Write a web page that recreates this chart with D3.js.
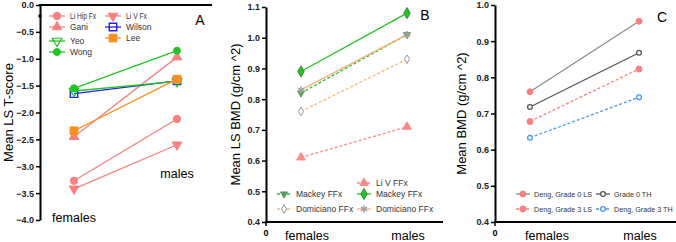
<!DOCTYPE html>
<html>
<head>
<meta charset="utf-8">
<script src="https://cdn.jsdelivr.net/npm/d3@7"></script>
<style>
  body { margin: 0; background: #fff; }
  svg { font-family: 'Liberation Sans', Arial, sans-serif; display: block; }
</style>
</head>
<body>
<div id="chart"></div>
<script>
const groups = ['females', 'males'];

// Panel A: mean LS T-score
const seriesA = ['Li Hip Fx', 'Li V Fx', 'Gani', 'Wilson', 'Yeo', 'Lee', 'Wong'];
const valuesA = [
  [-3.27, -2.12],
  [-3.42, -2.60],
  [-2.45, -0.97],
  [-1.65, -1.41],
  [-1.60, -1.42],
  [-2.34, -1.38],
  [-1.55, -0.85]
];
const ticksA = [0, -0.5, -1, -1.5, -2, -2.5, -3, -3.5, -4];

// Panel B: mean LS BMD
const seriesB = ['Li V FFx', 'Mackey FFx', 'Mackey FFx', 'Domiciano FFx', 'Domiciano FFx'];
const valuesB = [
  [0.61, 0.71],
  [0.82, 1.01],
  [0.89, 1.08],
  [0.76, 0.93],
  [0.83, 1.01]
];
const ticksB = [0.4, 0.5, 0.6, 0.7, 0.8, 0.9, 1.0, 1.1];

// Panel C: mean BMD
const seriesC = ['Deng, Grade 0 LS', 'Grade 0 TH', 'Deng, Grade 3 LS', 'Deng, Grade 3 TH'];
const valuesC = [
  [0.76, 0.955],
  [0.718, 0.868],
  [0.678, 0.823],
  [0.633, 0.745]
];
const ticksC = [0.4, 0.5, 0.6, 0.7, 0.8, 0.9, 1.0];

const pink = '#f98080', green = '#22c322', blue = '#2424e6', orange = '#f7901e';

const svg = d3.select('#chart').append('svg')
  .attr('width', 676).attr('height', 242);

function sym(type, size, rotate, fill, stroke, sw) {
  return { type, size, rotate: rotate || 0, fill, stroke, sw: sw || 1 };
}

const panels = [
  {
    letter: 'A', letterX: 200, letterY: 25,
    yLabel: 'Mean LS T-score', yLabelX: 8,
    axisX: 40, xEnd: 212, xAxisTop: true,
    xRange: [74, 177], yDomain: [-4, 0], yRange: [220, 5], ticks: ticksA,
    names: seriesA, values: valuesA,
    groupLabels: [{ x: 74, y: 222 }, { x: 177, y: 178 }],
    styles: [
      { color: pink, dash: null, m: sym(d3.symbolCircle, 42, 0, pink, pink) },
      { color: pink, dash: null, m: sym(d3.symbolTriangle, 40, 180, pink, pink) },
      { color: pink, dash: null, m: sym(d3.symbolTriangle, 40, 0, pink, pink) },
      { color: blue, dash: null, m: sym(d3.symbolSquare, 55, 0, 'none', blue, 1.4) },
      { color: green, dash: null, m: sym(d3.symbolTriangle, 40, 180, 'none', green, 1.2) },
      { color: orange, dash: null, m: sym(d3.symbolSquare, 60, 0, orange, orange) },
      { color: green, dash: null, m: sym(d3.symbolCircle, 38, 0, green, green) }
    ],
    legend: [
      { i: 0, x: 57, y: 16, w: 26 }, { i: 2, x: 57, y: 27 }, { i: 4, x: 57, y: 41 }, { i: 6, x: 57, y: 52 },
      { i: 1, x: 113, y: 16, w: 21 }, { i: 3, x: 113, y: 27 }, { i: 5, x: 113, y: 38 }
    ],
    legendFont: 8.5, legendGap: 13, legendHalf: 8
  },
  {
    letter: 'B', letterX: 425, letterY: 20,
    yLabel: 'Mean LS BMD (g/cm ^2)', yLabelX: 235,
    axisX: 266, xEnd: 443,
    xRange: [301, 407], yDomain: [0.4, 1.1], yRange: [222, 7], ticks: ticksB,
    names: seriesB, values: valuesB,
    groupLabels: [{ x: 307, y: 240 }, { x: 408, y: 240 }],
    styles: [
      { color: '#fb8a8a', dash: '3,2', m: sym(d3.symbolTriangle, 32, 0, '#fb8a8a', '#fb8a8a') },
      { color: green, dash: '3,2', m: sym(d3.symbolTriangle, 22, 180, '#5aa05a', '#5aa05a') },
      { color: green, dash: null, m: sym(d3.symbolDiamond, 36, 0, green, '#3a8a3a') },
      { color: '#fbb678', dash: '3,2', m: sym(d3.symbolDiamond, 22, 0, '#fff', '#999') },
      { color: '#f6b07a', dash: null, m: sym(d3.symbolAsterisk, 36, 0, 'none', '#a0a0a0', 1.5) }
    ],
    legend: [
      { i: 1, x: 284, y: 194 }, { i: 3, x: 284, y: 209 },
      { i: 0, x: 364, y: 183 }, { i: 2, x: 364, y: 194 }, { i: 4, x: 364, y: 209 }
    ],
    legendFont: 8.5, legendGap: 12, legendHalf: 7
  },
  {
    letter: 'C', letterX: 662, letterY: 22,
    yLabel: 'Mean BMD (g/cm ^2)', yLabelX: 461,
    axisX: 495, xEnd: 676,
    xRange: [530, 639], yDomain: [0.4, 1.0], yRange: [222, 5], ticks: ticksC,
    names: seriesC, values: valuesC,
    groupLabels: [{ x: 547, y: 240 }, { x: 640, y: 240 }],
    styles: [
      { color: '#8c8c8c', dash: null, m: sym(d3.symbolCircle, 28, 0, pink, pink) },
      { color: '#555', dash: null, m: sym(d3.symbolCircle, 18, 0, '#fff', '#555', 1.3) },
      { color: pink, dash: '3,2', m: sym(d3.symbolCircle, 28, 0, pink, pink) },
      { color: '#4a9af5', dash: '3,2', m: sym(d3.symbolCircle, 18, 0, '#fff', '#4a9af5', 1.3) }
    ],
    legend: [
      { i: 0, x: 523, y: 194 }, { i: 2, x: 523, y: 209 },
      { i: 1, x: 603, y: 194 }, { i: 3, x: 603, y: 209 }
    ],
    legendFont: 7.2, legendGap: 11, legendHalf: 7
  }
];

function drawMarker(g, st, x, y) {
  const m = st.m;
  g.append('path')
    .attr('d', d3.symbol().type(m.type).size(m.size)())
    .attr('transform', `translate(${x},${y}) rotate(${m.rotate})`)
    .attr('fill', m.fill)
    .attr('stroke', m.stroke)
    .attr('stroke-width', m.sw);
}

panels.forEach(p => {
  const g = svg.append('g');
  const x = d3.scaleLinear().domain([0, 1]).range(p.xRange);
  const y = d3.scaleLinear().domain(p.yDomain).range(p.yRange);

  // Y axis
  g.append('g')
    .attr('transform', `translate(${p.axisX},0)`)
    .call(d3.axisLeft(y).tickValues(p.ticks).tickFormat(d3.format('.1f')).tickSize(4).tickSizeOuter(0))
    .call(a => a.select('.domain').attr('stroke', '#000').attr('stroke-width', 2))
    .call(a => a.selectAll('.tick line').attr('stroke', '#000').attr('stroke-width', 1.5))
    .call(a => a.selectAll('text').attr('fill', '#222').style('font-size', '9px').style('font-weight', 'bold').attr('x', -6));

  // X axis line (top for A, bottom for B/C)
  const xAxisY = p.xAxisTop ? y(p.yDomain[1]) : y(p.yDomain[0]);
  g.append('line')
    .attr('x1', p.axisX - 1).attr('x2', p.xEnd)
    .attr('y1', xAxisY).attr('y2', xAxisY)
    .attr('stroke', '#000').attr('stroke-width', 2);
  if (!p.xAxisTop) {
    g.append('line')
      .attr('x1', p.axisX).attr('x2', p.axisX)
      .attr('y1', xAxisY).attr('y2', xAxisY + 4)
      .attr('stroke', '#000').attr('stroke-width', 1.5);
    g.append('text')
      .attr('x', p.axisX).attr('y', 236)
      .attr('text-anchor', 'middle')
      .style('font-size', '9px').style('font-weight', 'bold')
      .text('0');
  } else {
    g.append('circle').attr('cx', p.axisX).attr('cy', 16).attr('r', 1.8).attr('fill', '#000');
  }

  // Y label
  g.append('text')
    .attr('transform', `translate(${p.yLabelX},${(p.yRange[0] + p.yRange[1]) / 2}) rotate(-90)`)
    .attr('text-anchor', 'middle')
    .attr('dy', '0.35em')
    .style('font-size', '13px')
    .text(p.yLabel);

  // Panel letter
  g.append('text')
    .attr('x', p.letterX).attr('y', p.letterY)
    .attr('text-anchor', 'middle')
    .style('font-size', '14px')
    .text(p.letter);

  // Group labels
  p.groupLabels.forEach((gl, i) => {
    g.append('text')
      .attr('x', gl.x).attr('y', gl.y)
      .attr('text-anchor', 'middle')
      .style('font-size', '12.5px')
      .text(groups[i]);
  });

  // Lines and markers
  const line = d3.line().x((d, i) => x(i)).y(d => y(d));
  p.values.forEach((vals, si) => {
    const st = p.styles[si];
    g.append('path')
      .attr('d', line(vals))
      .attr('fill', 'none')
      .attr('stroke', st.color)
      .attr('stroke-width', 1.3)
      .attr('stroke-dasharray', st.dash);
    vals.forEach((v, i) => drawMarker(g, st, x(i), y(v)));
  });

  // Legend
  p.legend.forEach(l => {
    const st = p.styles[l.i];
    g.append('line')
      .attr('x1', l.x - p.legendHalf).attr('x2', l.x + p.legendHalf)
      .attr('y1', l.y).attr('y2', l.y)
      .attr('stroke', st.color).attr('stroke-width', 1.3)
      .attr('stroke-dasharray', st.dash);
    drawMarker(g, st, l.x, l.y);
    const t = g.append('text')
      .attr('x', l.x + p.legendGap).attr('y', l.y)
      .attr('dy', '0.35em')
      .attr('fill', '#333')
      .style('font-size', p.legendFont + 'px')
      .text(p.names[l.i]);
    if (l.w) t.attr('textLength', l.w).attr('lengthAdjust', 'spacingAndGlyphs');
  });
});
</script>
</body>
</html>
